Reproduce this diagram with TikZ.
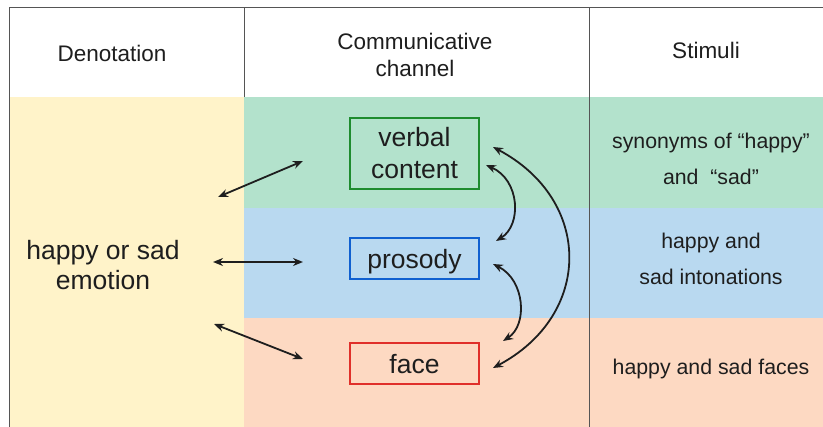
\documentclass[tikz,border=0pt]{standalone}
\usepackage{fontspec}
\setmainfont{Liberation Sans}
\usetikzlibrary{arrows.meta}
\definecolor{cyel}{HTML}{FFF3C9}
\definecolor{cgrn}{HTML}{B3E2CC}
\definecolor{cblu}{HTML}{B9D9F0}
\definecolor{cpch}{HTML}{FDD9C2}
\definecolor{bgrn}{HTML}{1E8C2E}
\definecolor{bblu}{HTML}{1060D0}
\definecolor{bred}{HTML}{E0302A}
\definecolor{rule}{HTML}{555555}
\definecolor{ink}{HTML}{1E1E1E}
\tikzset{
  hdr/.style={font=\fontsize{22.5}{27}\selectfont, align=center, text=ink},
  chan/.style={draw, line width=1.4pt, minimum width=129pt, font=\fontsize{26.5}{32}\selectfont, inner sep=0pt, text=ink},
  stim/.style={font=\fontsize{21.3}{36}\selectfont, align=center, text=ink},
  link/.style={line width=1.8pt, draw=ink, {Stealth[length=10pt,width=8pt]}-{Stealth[length=10pt,width=8pt]}},
  tableline/.style={draw=rule, line width=1pt}
}
\begin{document}
\begin{tikzpicture}[x=1pt,y=-1pt]
\useasboundingbox (0,0) rectangle (823,427);
\fill[white] (0,0) rectangle (823,427);
% colour bands
\fill[cyel] (9,97) rectangle (244,427);
\fill[cgrn] (244,97) rectangle (823,208);
\fill[cblu] (244,208) rectangle (823,318);
\fill[cpch] (244,318) rectangle (823,427);
% table lines
\draw[tableline] (9,427) -- (9,8) -- (823,8);
\draw[tableline] (244,8) -- (244,97);
\draw[tableline] (589,8) -- (589,427);
% headers
\node[hdr] (h1) at (112,53) {Denotation};
\node[hdr] (h2) at (415,55) {Communicative\\channel};
\node[hdr] (h3) at (706,50) {Stimuli};
% denotation
\node[font=\fontsize{26.5}{30}\selectfont, align=center, text=ink] (emo) at (103,265) {happy or sad\\emotion};
% channels
\node[chan, align=center, draw=bgrn, minimum height=71pt] (vc) at (414.5,153.5) {verbal\\content};
\node[chan, draw=bblu, minimum height=41pt] (pr) at (414.5,258.5) {\raisebox{-10pt}[0pt][0pt]{prosody}};
\node[chan, draw=bred, minimum height=41pt] (fa) at (414.5,363.5) {\raisebox{-10pt}[0pt][0pt]{face}};
% stimuli
\node[stim] (s1) at (711,159) {synonyms of “happy”\\and \ “sad”};
\node[stim] (s2) at (711,259) {happy and\\sad intonations};
\node[stim] (s3) at (711,369) {happy and sad faces};
% arrow endpoints
\coordinate (l1) at (218,197); \coordinate (r1) at (303,161);
\coordinate (l2) at (213,262); \coordinate (r2) at (303,262);
\coordinate (l3) at (214,324); \coordinate (r3) at (303,359);
\coordinate (va) at (486,165); \coordinate (pa) at (496,241);
\coordinate (pb) at (493,264); \coordinate (fb) at (503,341);
\coordinate (vt) at (493,147); \coordinate (ft) at (493,368);
\draw[link] (l1) -- (r1);
\draw[link] (l2) -- (r2);
\draw[link] (l3) -- (r3);
\draw[link] (va) .. controls (520,180) and (522,225) .. (pa);
\draw[link] (pb) .. controls (525,280) and (528,325) .. (fb);
\draw[link] (vt) .. controls (593,200) and (593,315) .. (ft);
\end{tikzpicture}
\end{document}
